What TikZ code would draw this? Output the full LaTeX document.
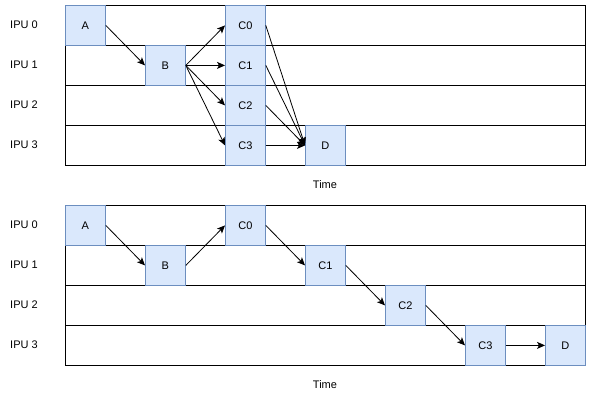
\documentclass[tikz,border=0pt]{standalone}
\usepackage{fontspec}
\setmainfont{Liberation Sans}
\usetikzlibrary{arrows.meta}
\definecolor{taskfill}{HTML}{DAE8FC}
\definecolor{taskline}{HTML}{6C8EBF}

\begin{document}
\begin{tikzpicture}[x=1pt, y=-1pt,
			font=\fontsize{11}{13}\selectfont,
			lane/.style={draw, line width=0.9pt, minimum width=520pt, minimum height=40pt, inner sep=0pt, anchor=north west},
			task/.style={draw=taskline, fill=taskfill, line width=0.8pt, minimum size=40pt, inner sep=0pt, anchor=north west},
			flow/.style={line width=0.8pt, -{Stealth[length=8pt, width=7pt, inset=2pt]}},
			]
			\useasboundingbox (0,0) rectangle (591,401);
			
			% Lanes with IPU labels (both timelines)
			\foreach \r in {0,...,3} {
				\node[lane] (tl\r) at (65,5+40*\r) {};
				\node (tlab\r) at (24,25+40*\r) {IPU \r};
				\node[lane] (bl\r) at (65,205+40*\r) {};
				\node (blab\r) at (24,225+40*\r) {IPU \r};
			}
			
			% Upper timeline
			\node[task] (tA) at (65,5) {A};
			\node[task] (tB) at (145,45) {B};
			\foreach \c in {0,...,3} {
				\node[task] (tC\c) at (225,5+40*\c) {C\c};
			}
			\node[task] (tD) at (305,125) {D};
			\node (ttime) at (325,185) {Time};
			
			\draw[flow] (tA.east) -- (tB.west);
			\foreach \c in {0,...,3} {
				\draw[flow] (tB.east) -- (tC\c.west);
				\draw[flow] (tC\c.east) -- (tD.west);
			}
			
			% Lower timeline
			\node[task] (bA) at (65,205) {A};
			\node[task] (bB) at (145,245) {B};
			\node[task] (bC0) at (225,205) {C0};
			\node[task] (bC1) at (305,245) {C1};
			\node[task] (bC2) at (385,285) {C2};
			\node[task] (bC3) at (465,325) {C3};
			\node[task] (bD) at (545,325) {D};
			\node (btime) at (325,385) {Time};
			
			% Chain of transfers
			\draw[flow] (bA.east) -- (bB.west);
			\draw[flow] (bB.east) -- (bC0.west);
			\draw[flow] (bC0.east) -- (bC1.west);
			\draw[flow] (bC1.east) -- (bC2.west);
			\draw[flow] (bC2.east) -- (bC3.west);
			\draw[flow] (bC3.east) -- (bD.west);
			
		\end{tikzpicture}
\end{document}
